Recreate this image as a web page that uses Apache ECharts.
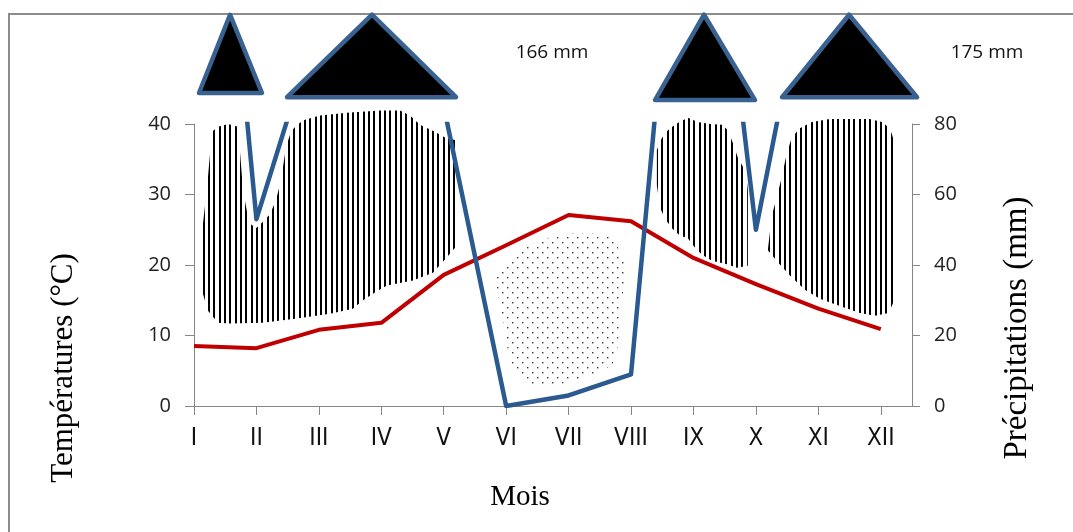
<!DOCTYPE html>
<html>
<head>
<meta charset="utf-8">
<script src="https://cdn.jsdelivr.net/npm/echarts@6/dist/echarts.min.js"></script>
<style>
  html, body { margin: 0; padding: 0; background: #fff; }
  #chart { width: 1073px; height: 532px; }
</style>
</head>
<body>
<div id="chart"></div>
<script>
// Monthly climate data (ombrothermic diagram, P = 2T)
const months = ['I', 'II', 'III', 'IV', 'V', 'VI', 'VII', 'VIII', 'IX', 'X', 'XI', 'XII'];
const temperature = [8.5, 8.2, 10.8, 11.8, 18.6, 22.8, 27.1, 26.2, 21.0, 17.3, 13.8, 10.9];   // °C
const precipitation = [240, 53, 110, 166, 85, 0, 3, 9, 200, 50, 140, 175];                    // mm
const temperatureTicks = [0, 10, 20, 30, 40];
const precipitationTicks = [0, 20, 40, 60, 80];

// Humid period outlines: [month position, °C]
const humidWinterSpring = [
  [1.128, 24.6], [1.208, 30.9], [1.288, 38.9], [1.384, 39.6], [1.544, 40.0], [1.705, 39.6],
  [1.785, 30.6], [1.881, 26.0], [1.993, 25.2], [2.089, 26.0], [2.217, 27.2], [2.313, 29.2],
  [2.393, 32.0], [2.473, 36.7], [2.553, 38.9], [2.649, 39.9], [2.777, 40.6], [3.018, 41.2],
  [3.450, 41.6], [3.978, 41.9], [4.299, 41.9], [4.459, 41.2], [4.619, 39.9], [4.859, 38.9],
  [5.019, 38.1], [5.195, 37.7], [5.195, 22.6], [5.051, 21.1], [4.827, 18.9], [4.507, 17.8],
  [4.090, 17.1], [3.898, 16.1], [3.690, 14.9], [3.546, 13.8], [3.178, 13.1], [2.649, 12.4],
  [2.105, 11.8], [1.576, 11.7], [1.384, 11.8], [1.224, 13.5], [1.144, 15.9], [1.112, 20.4]
];
const humidSeptember = [
  [8.414, 36.3], [8.494, 38.0], [8.590, 39.1], [8.718, 40.0], [8.910, 40.9], [9.070, 40.3],
  [9.263, 40.0], [9.455, 39.9], [9.551, 39.1], [9.631, 37.3], [9.711, 35.2], [9.839, 33.2],
  [9.871, 30.6], [9.871, 19.9], [9.695, 19.6], [9.535, 20.1], [9.295, 20.6], [9.134, 21.5],
  [9.022, 22.5], [8.910, 23.8], [8.782, 24.2], [8.654, 25.2], [8.542, 26.6], [8.462, 28.2],
  [8.414, 31.3]
];
const humidAutumn = [
  [10.191, 22.1], [10.255, 27.0], [10.335, 29.6], [10.415, 32.5], [10.496, 35.9], [10.576, 38.1],
  [10.704, 39.4], [10.896, 40.3], [11.184, 40.7], [11.825, 40.7], [12.017, 40.3], [12.145, 39.4],
  [12.209, 37.7], [12.209, 14.9], [12.129, 13.2], [11.905, 12.8], [11.665, 13.2], [11.344, 14.2],
  [11.024, 15.2], [10.784, 16.5], [10.544, 18.5], [10.352, 20.4]
];
// Dry period outline: [month position, °C]
const drySummer = [
  [6.941, 24.5], [7.133, 24.5], [7.501, 24.5], [7.693, 23.8], [7.821, 22.1], [7.901, 20.4],
  [7.901, 17.8], [7.853, 14.9], [7.821, 12.1], [7.789, 8.5], [7.709, 6.0], [7.501, 4.7],
  [7.181, 3.8], [6.861, 3.1], [6.380, 3.1], [6.220, 4.1], [6.092, 6.0], [6.012, 8.5],
  [5.948, 12.1], [5.868, 15.7], [5.820, 18.5], [5.980, 20.4], [6.220, 22.1], [6.540, 23.5],
  [6.781, 24.1]
];
// Off-scale rainfall peaks drawn above the plot: [start, apex, end] in months, [apex, base] in °C
const peakSpans = [[1.080, 1.577, 2.089], [2.490, 3.851, 5.197], [8.384, 9.169, 9.986], [10.419, 11.492, 12.581]];
const peakHeights = [[55.5, 44.4], [55.5, 43.8], [55.5, 43.4], [55.5, 43.8]];

// Fill patterns: vertical hatching for humid months, dots for dry months
function hatchPattern() {
  const c = document.createElement('canvas');
  c.width = 16; c.height = 4;
  const g = c.getContext('2d');
  g.fillStyle = '#000';
  [0, 5, 11].forEach(x => g.fillRect(x, 0, 2, 4));
  return { image: c, repeat: 'repeat' };
}
function dotPattern() {
  const c = document.createElement('canvas');
  c.width = 10; c.height = 10;
  const g = c.getContext('2d');
  g.fillStyle = '#333';
  g.fillRect(2, 2, 1.4, 1.4);
  g.fillRect(7, 7, 1.4, 1.4);
  return { image: c, repeat: 'repeat' };
}
const hatch = hatchPattern();
const dots = dotPattern();

const zones = [
  { outline: humidWinterSpring, fill: hatch },
  { outline: humidSeptember, fill: hatch },
  { outline: humidAutumn, fill: hatch },
  { outline: drySummer, fill: dots }
];

const axisGray = '#868686';
const labelFont = '"Open Sans", "Noto Sans", sans-serif';
const monthFont = '"Liberation Sans Narrow", "DejaVu Sans Condensed", sans-serif';
const serif = '"Liberation Serif", "DejaVu Serif", serif';
const monthValues = months.map((m, i) => i + 1);

const chart = echarts.init(document.getElementById('chart'), null, { renderer: 'canvas' });

chart.setOption({
  animation: false,
  backgroundColor: '#fff',
  grid: { left: 194, right: 161, top: 124, bottom: 126, containLabel: false },
  xAxis: {
    type: 'value', min: 1, max: 12.5, interval: 1,
    axisLine: { show: true, lineStyle: { color: axisGray, width: 1 } },
    axisTick: { show: true, length: 9, customValues: monthValues, lineStyle: { color: axisGray } },
    axisLabel: {
      customValues: monthValues,
      formatter: v => months[Math.round(v) - 1] || '',
      fontFamily: monthFont, fontSize: 24, color: '#111', margin: 21
    },
    splitLine: { show: false }
  },
  yAxis: [
    {
      type: 'value', position: 'left', min: 0, max: 40, interval: 10,
      axisLine: { show: true, lineStyle: { color: axisGray } },
      axisTick: { show: true, length: 9, lineStyle: { color: axisGray } },
      axisLabel: {
        customValues: temperatureTicks, fontFamily: labelFont, fontSize: 20, color: '#222', margin: 23
      },
      splitLine: { show: false }
    },
    {
      type: 'value', position: 'right', min: 0, max: 80, interval: 20,
      axisLine: { show: true, lineStyle: { color: axisGray } },
      axisTick: { show: true, length: 8, lineStyle: { color: axisGray } },
      axisLabel: {
        customValues: precipitationTicks, fontFamily: labelFont, fontSize: 20, color: '#222', margin: 22
      },
      splitLine: { show: false }
    }
  ],
  series: [
    {
      type: 'custom', name: 'zones', z: 1, silent: true,
      data: zones.map((z, i) => [i]),
      renderItem: (params, api) => {
        const zone = zones[params.dataIndex];
        return {
          type: 'polygon',
          shape: { points: zone.outline.map(p => api.coord(p)) },
          style: { fill: zone.fill, stroke: null }
        };
      }
    },
    {
      type: 'line', name: 'Températures', yAxisIndex: 0, z: 3,
      data: temperature.map((t, i) => [i + 1, t]),
      symbol: 'none',
      lineStyle: { color: '#C00000', width: 4, join: 'round' }
    },
    {
      type: 'line', name: 'Précipitations', yAxisIndex: 1, z: 4, clip: true,
      data: precipitation.map((p, i) => [i + 1, p]),
      symbol: 'none',
      lineStyle: { color: '#2B5A91', width: 4.5, join: 'round' }
    },
    {
      type: 'custom', name: 'peaks', z: 5, silent: true, clip: false,
      data: peakSpans.map((s, i) => [i]),
      renderItem: (params, api) => {
        const s = peakSpans[params.dataIndex];
        const h = peakHeights[params.dataIndex];
        return {
          type: 'polygon',
          shape: { points: [api.coord([s[0], h[1]]), api.coord([s[1], h[0]]), api.coord([s[2], h[1]])] },
          style: { fill: '#000', stroke: '#3A6291', lineWidth: 4.5, lineJoin: 'round' }
        };
      }
    }
  ],
  graphic: [
    {
      type: 'rect', silent: true, z: 0,
      shape: { x: 9, y: 14, width: 1120, height: 600 },
      style: { fill: null, stroke: '#8c8c8c', lineWidth: 2 }
    },
    {
      type: 'text', x: 552, y: 53, silent: true,
      style: {
        text: precipitation[3] + ' mm', font: '19px ' + labelFont, fill: '#111',
        textAlign: 'center', textVerticalAlign: 'middle'
      }
    },
    {
      type: 'text', x: 987, y: 53, silent: true,
      style: {
        text: precipitation[11] + ' mm', font: '19px ' + labelFont, fill: '#111',
        textAlign: 'center', textVerticalAlign: 'middle'
      }
    },
    {
      type: 'text', x: 64, y: 368, rotation: Math.PI / 2, silent: true,
      style: {
        text: 'Températures (°C)', font: '31px ' + serif, fill: '#000',
        textAlign: 'center', textVerticalAlign: 'middle'
      }
    },
    {
      type: 'text', x: 1017, y: 328, rotation: Math.PI / 2, silent: true,
      style: {
        text: 'Précipitations (mm)', font: '33px ' + serif, fill: '#000',
        textAlign: 'center', textVerticalAlign: 'middle'
      }
    },
    {
      type: 'text', x: 520, y: 497, silent: true,
      style: {
        text: 'Mois', font: '29px ' + serif, fill: '#000',
        textAlign: 'center', textVerticalAlign: 'middle'
      }
    }
  ]
});
</script>
</body>
</html>
